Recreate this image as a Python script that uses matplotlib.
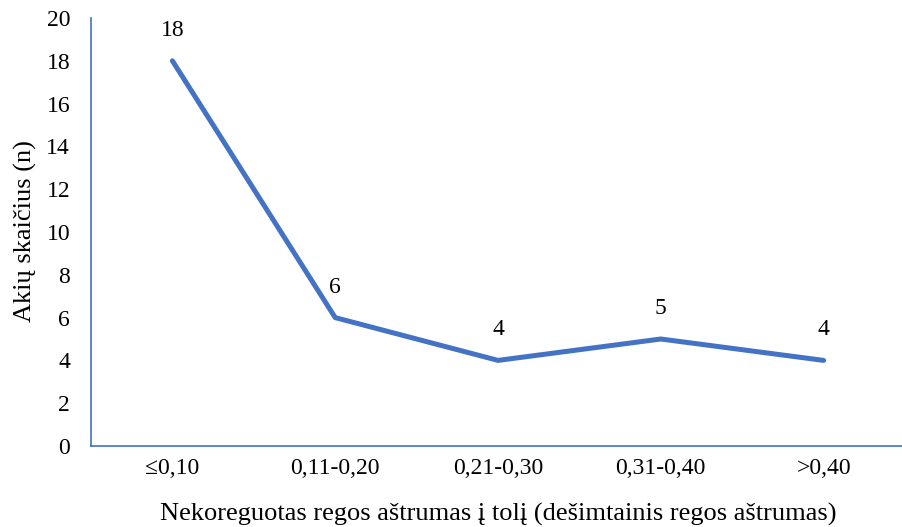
import matplotlib
matplotlib.use("Agg")
import matplotlib.pyplot as plt

categories = ["≤0,10", "0,11-0,20", "0,21-0,30", "0,31-0,40", ">0,40"]
values = [18, 6, 4, 5, 4]
yticks = [0, 2, 4, 6, 8, 10, 12, 14, 16, 18, 20]

plt.rcParams['font.family'] = ['Liberation Serif', 'DejaVu Serif']
blue = "#4472C4"

fig = plt.figure(figsize=(9.02, 5.27), dpi=100)
W, H = 902, 527
ax = fig.add_axes([91 / W, (H - 446) / H, (905 - 91) / W, (446 - 18) / H])

x = list(range(len(categories)))
ax.plot(x, values, color=blue, linewidth=3.6, solid_capstyle='round', solid_joinstyle='round')
for xi, v in zip(x, values):
    ax.annotate(str(v), (xi, v), xytext=(0, 22), textcoords='offset points',
                ha='center', va='center', fontsize=17)

ax.set_xlim(-0.5, 4.5)
ax.set_ylim(0, 20)
ax.set_xticks(x)
ax.set_xticklabels(categories)
ax.set_yticks(yticks)
ax.tick_params(axis='both', length=0, labelsize=17)
ax.tick_params(axis='x', pad=9)
ax.tick_params(axis='y', pad=15)

for s in ['top', 'right']:
    ax.spines[s].set_visible(False)
for s in ['left', 'bottom']:
    ax.spines[s].set_color(blue)
    ax.spines[s].set_linewidth(1.2)

fig.text(498 / W, 1 - 514 / H, "Nekoreguotas regos aštrumas į tolį (dešimtainis regos aštrumas)",
         fontsize=19, ha='center', va='center')
fig.text(25 / W, 1 - 231 / H, "Akių skaičius (n)", fontsize=19, ha='center', va='center',
         rotation=90)

fig.savefig("out.png", dpi=100)
